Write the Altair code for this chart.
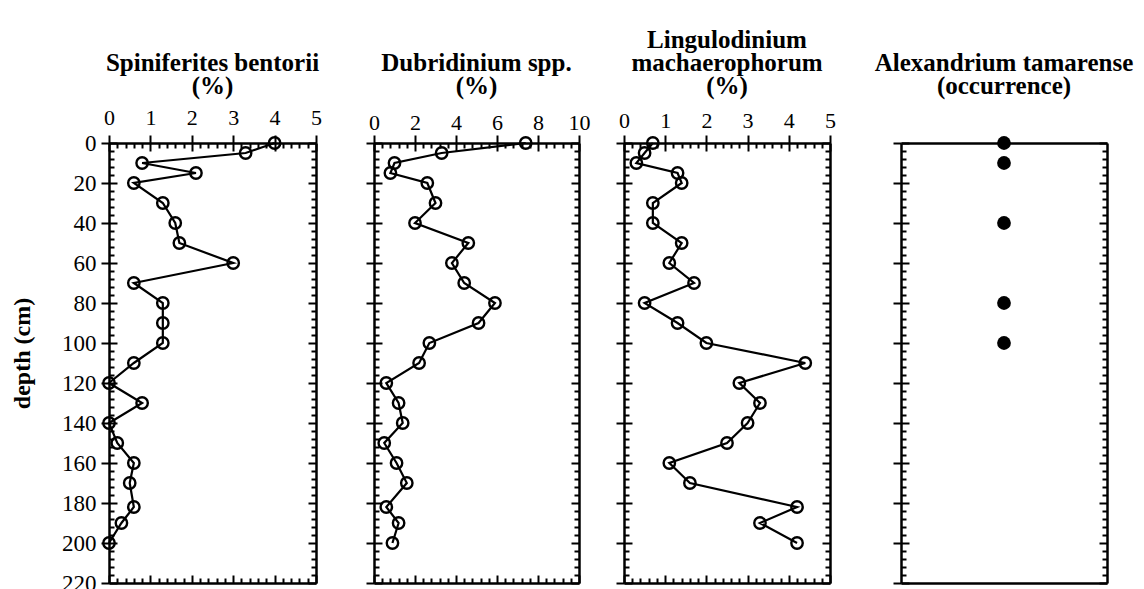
import altair as alt
import pandas as pd

FONT = "Liberation Serif"

# ---- data ----
depth = [0, 5, 10, 15, 20, 30, 40, 50, 60, 70, 80, 90, 100, 110, 120, 130, 140,
         150, 160, 170, 182, 190, 200]
spiniferites = [4.0, 3.3, 0.8, 2.1, 0.6, 1.3, 1.6, 1.7, 3.0, 0.6, 1.3, 1.3, 1.3,
                0.6, 0.0, 0.8, 0.0, 0.2, 0.6, 0.5, 0.6, 0.3, 0.0]
dubridinium = [7.4, 3.3, 1.0, 0.8, 2.6, 3.0, 2.0, 4.6, 3.8, 4.4, 5.9, 5.1, 2.7,
               2.2, 0.6, 1.2, 1.4, 0.5, 1.1, 1.6, 0.6, 1.2, 0.9]
lingulodinium = [0.7, 0.5, 0.3, 1.3, 1.4, 0.7, 0.7, 1.4, 1.1, 1.7, 0.5, 1.3, 2.0,
                 4.4, 2.8, 3.3, 3.0, 2.5, 1.1, 1.6, 4.2, 3.3, 4.2]
alexandrium_depth = [0, 10, 40, 80, 100]
alexandrium_present = [1, 1, 1, 1, 1]

depth_major = list(range(0, 221, 20))
depth_all = list(range(0, 221, 4))
pct5_major = [0, 1, 2, 3, 4, 5]
pct5_all = [round(i * 0.2, 1) for i in range(26)]
pct10_major = [0, 2, 4, 6, 8, 10]
pct10_all = [round(i * 0.4, 1) for i in range(26)]

H = 440
MAJ, MIN = 8, 5
TW = 2
DW = 2.5


def cond_size(test):
    return {"condition": {"test": test, "value": MAJ}, "value": MIN}


Y_TEST = "datum.value % 20 === 0"


def y_outer(labels, title):
    kw = dict(orient="left", values=depth_major, tickSize=MAJ, tickWidth=TW,
              tickColor="black", domainColor="black", domainWidth=DW,
              labels=labels, labelFont=FONT, labelFontSize=23, labelColor="black",
              labelPadding=5, labelFlush=False, labelOverlap=False, grid=False)
    if title:
        kw.update(title=title, titleFont=FONT, titleFontSize=24,
                  titleFontWeight="bold", titleColor="black",
                  titleX=-87, titleY=210, titleBaseline="middle",
                  titleAlign="center", titleAngle=270)
    else:
        kw.update(title=None)
    return alt.Axis(**kw)


def y_inner_left(W):
    return alt.Axis(orient="right", offset=-W, values=depth_all,
                    tickSize=cond_size(Y_TEST), tickWidth=TW, tickColor="black",
                    labels=False, domain=False, grid=False, title=None)


def y_inner_right(W):
    return alt.Axis(orient="left", offset=-W, values=depth_all,
                    tickSize=cond_size(Y_TEST), tickWidth=TW, tickColor="black",
                    domainColor="black", domainWidth=DW,
                    labels=False, grid=False, title=None)


def x_outer(major, pad):
    return alt.Axis(orient="top", values=major, tickSize=MAJ, tickWidth=TW,
                    tickColor="black", domainColor="black", domainWidth=DW,
                    labelFont=FONT, labelFontSize=22, labelColor="black",
                    labelPadding=pad, labelFlush=False, labelOverlap=False,
                    grid=False, title=None)


def x_inner_top(allv, test):
    return alt.Axis(orient="bottom", offset=-H, values=allv,
                    tickSize=cond_size(test), tickWidth=TW, tickColor="black",
                    labels=False, domain=False, grid=False, title=None)


def x_inner_bottom(allv, test):
    return alt.Axis(orient="top", offset=-H, values=allv,
                    tickSize=cond_size(test), tickWidth=TW, tickColor="black",
                    domainColor="black", domainWidth=DW,
                    labels=False, grid=False, title=None)


def title(lines, offset):
    return alt.TitleParams(text=lines, font=FONT, fontSize=25, fontWeight="bold",
                           color="black", lineHeight=23, anchor="middle",
                           offset=offset)


def profile(values, W, xmax, major, allv, test, pad, ttl, toff, ylabels, ytitle):
    df = pd.DataFrame({"depth": depth, "value": values})
    xs = alt.Scale(domain=[0, xmax], nice=False, zero=True)
    ys = alt.Scale(domain=[0, 220], reverse=True, nice=False)
    base = alt.Chart(df)
    line = base.mark_line(color="black", strokeWidth=2.2).encode(
        x=alt.X("value:Q", scale=xs, axis=x_outer(major, pad)),
        y=alt.Y("depth:Q", scale=ys, axis=y_outer(ylabels, ytitle)),
        order=alt.Order("depth:Q"),
    )
    pts = base.mark_point(shape="circle", filled=False, color="black",
                          strokeWidth=2.4, size=130, opacity=1).encode(
        x=alt.X("value:Q", scale=xs, axis=x_inner_top(allv, test)),
        y=alt.Y("depth:Q", scale=ys, axis=y_inner_left(W)),
    )
    ghost = base.mark_point(opacity=0).encode(
        x=alt.X("value:Q", scale=xs, axis=x_inner_bottom(allv, test)),
        y=alt.Y("depth:Q", scale=ys, axis=y_inner_right(W)),
    )
    return alt.layer(line, pts, ghost).resolve_axis(
        x="independent", y="independent"
    ).properties(width=W, height=H, title=title(ttl, toff))


X5_TEST = "abs(datum.value - round(datum.value)) < 0.001"
X10_TEST = "abs(datum.value / 2 - round(datum.value / 2)) < 0.001"

p1 = profile(spiniferites, 207, 5, pct5_major, pct5_all, X5_TEST, 6,
             ["Spiniferites bentorii", "(%)"], 7, True, "depth (cm)")
p2 = profile(dubridinium, 205, 10, pct10_major, pct10_all, X10_TEST, 1,
             ["Dubridinium spp.", "(%)"], 12, False, None)
p3 = profile(lingulodinium, 206, 5, pct5_major, pct5_all, X5_TEST, 3,
             ["Lingulodinium", "machaerophorum", "(%)"], 10, False, None)

# occurrence panel
W4 = 206
df4 = pd.DataFrame({"depth": alexandrium_depth, "present": alexandrium_present})
xs4 = alt.Scale(domain=[0, 2], nice=False, zero=True)
ys4 = alt.Scale(domain=[0, 220], reverse=True, nice=False)
b4 = alt.Chart(df4)
occ = b4.mark_circle(color="black", size=190, opacity=1).encode(
    x=alt.X("present:Q", scale=xs4,
            axis=alt.Axis(orient="top", ticks=False, labels=False,
                          domainColor="black", domainWidth=DW, grid=False,
                          title=None)),
    y=alt.Y("depth:Q", scale=ys4, axis=y_outer(False, None)),
)
occ2 = b4.mark_circle(opacity=0).encode(
    x=alt.X("present:Q", scale=xs4,
            axis=alt.Axis(orient="bottom", ticks=False, labels=False,
                          domainColor="black", domainWidth=DW, grid=False,
                          title=None)),
    y=alt.Y("depth:Q", scale=ys4, axis=y_inner_left(W4)),
)
occ3 = b4.mark_circle(opacity=0).encode(
    x=alt.X("present:Q", scale=xs4, axis=None),
    y=alt.Y("depth:Q", scale=ys4, axis=y_inner_right(W4)),
)
p4 = alt.layer(occ, occ2, occ3).resolve_axis(
    x="independent", y="independent"
).properties(width=W4, height=H,
             title=title(["Alexandrium tamarense", "(occurrence)"], 37))

chart = alt.hconcat(
    alt.hconcat(p1, p2, spacing=42),
    alt.hconcat(p3, p4, spacing=38),
    spacing=23,
).properties(
    padding={"left": 9, "top": 27, "right": 5, "bottom": 5}
).configure_view(stroke=None).configure(background="white")

chart.save("out.html", embed_options={"renderer": "svg", "actions": False})
